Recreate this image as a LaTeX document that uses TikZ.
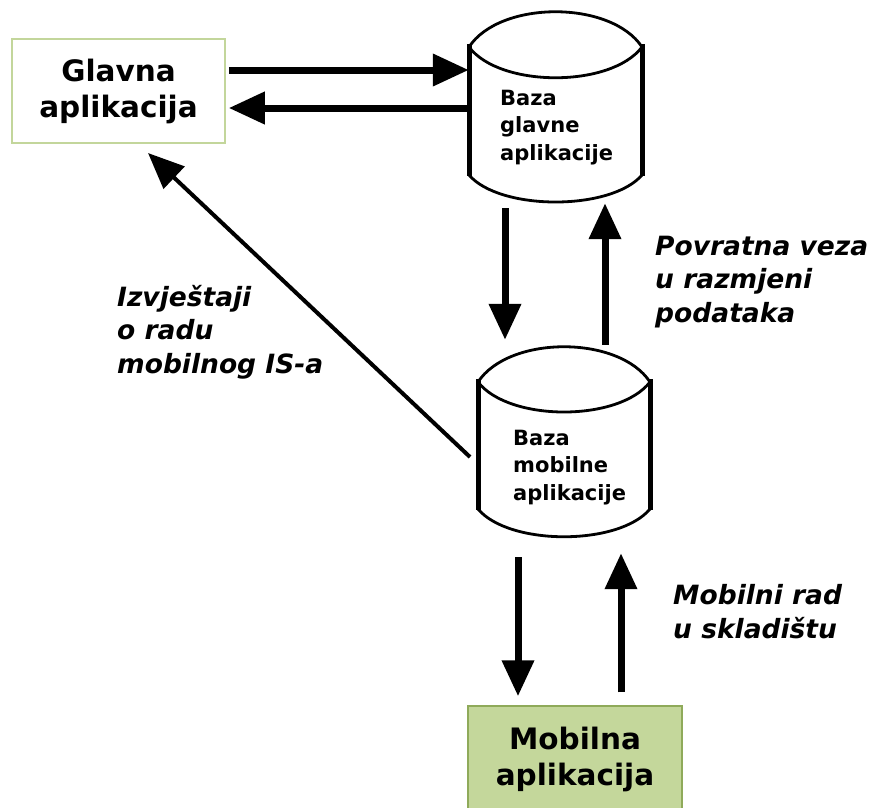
\documentclass[tikz,border=0pt]{standalone}
\usepackage{fontspec}
\setmainfont{DejaVu Sans}
\usetikzlibrary{arrows.meta}
\definecolor{glavline}{HTML}{C3D69B}
\definecolor{mobfill}{HTML}{C4D79B}
\definecolor{mobline}{HTML}{8FAA5A}
\tikzset{
  appbox/.style={draw, line width=1.5pt, inner sep=0pt, align=center,
    font=\bfseries\fontsize{29.5pt}{36pt}\selectfont},
  dbanchor/.style={inner sep=0pt, draw=none},
  dbtext/.style={inner sep=0pt, align=left, anchor=base west,
    font=\bfseries\fontsize{21pt}{27.5pt}\selectfont},
  lbl/.style={inner sep=0pt, align=left, anchor=base west,
    font=\bfseries\itshape\fontsize{26.5pt}{33.5pt}\selectfont},
  dbside/.style={line width=5pt},
  dbarc/.style={line width=2.8pt},
  bigarrow/.style={line width=7pt, -{Triangle[length=36pt,width=31pt]}},
  thinarrow/.style={line width=4pt, -{Triangle[length=36pt,width=30pt]}}
}
\begin{document}
\begin{tikzpicture}[x=1pt,y=-1pt]
\useasboundingbox (0,0) rectangle (872,807);
\clip (0,0) rectangle (872,807);

% Glavna aplikacija
\node[appbox, draw=glavline, fill=white, minimum width=213pt, minimum height=104pt] (glavna) at (118.5,91) {Glavna\\aplikacija};

% Mobilna aplikacija
\node[appbox, draw=mobline, fill=mobfill, minimum width=214pt, minimum height=106pt] (mobilna) at (575,759) {Mobilna\\aplikacija};

% Cylinder 1
\node[dbanchor, minimum width=173pt, minimum height=192pt] (db1) at (555.5,106) {};
\draw[dbarc] (469,47) .. controls (500,0) and (611,0) .. (642,47);
\draw[dbarc] (469,47) .. controls (500,88) and (611,88) .. (642,47);
\draw[dbarc] (469,175) .. controls (500,211) and (611,211) .. (642,175);
\draw[dbside] (469,44) -- (469,176);
\draw[dbside] (642,44) -- (642,176);
\node[dbtext] (db1t) at (500,160) {Baza\\glavne\\aplikacije};

% Cylinder 2
\node[dbanchor, minimum width=172pt, minimum height=193pt] (db2) at (564,443.5) {};
\draw[dbarc] (478,382) .. controls (509,335) and (619,335) .. (650,382);
\draw[dbarc] (478,382) .. controls (509,422) and (619,422) .. (650,382);
\draw[dbarc] (478,509) .. controls (509,546) and (619,546) .. (650,509);
\draw[dbside] (478,379) -- (478,510);
\draw[dbside] (650,379) -- (650,510);
\node[dbtext] (db2t) at (513,500) {Baza\\mobilne\\aplikacije};

% Arrows between Glavna and db1
\draw[bigarrow, shorten <=3pt] (glavna.east |- 0,70) -- (db1.west |- 0,70);
\draw[bigarrow, shorten >=3pt] (db1.west |- 0,108) -- (glavna.east |- 0,108);

% Arrows between db1 and db2
\draw[bigarrow, shorten <=6pt, shorten >=7pt] (db1.south -| 505,0) -- (db2.north -| 505,0);
\draw[bigarrow, shorten <=2pt, shorten >=1pt] (db2.north -| 605,0) -- (db1.south -| 605,0);

% Report arrow
\coordinate (rtail) at (470,457);
\coordinate (rtip) at (148,153);
\draw[thinarrow] (rtail) -- (rtip);

% Arrows between db2 and Mobilna
\draw[bigarrow, shorten <=17pt, shorten >=9pt] (db2.south -| 518,0) -- (mobilna.north -| 518,0);
\draw[bigarrow, shorten <=13pt, shorten >=13pt] (mobilna.north -| 621,0) -- (db2.south -| 621,0);

% Labels
\node[lbl] (lrep) at (117,373) {Izvještaji\\o radu\\mobilnog IS-a};
\node[lbl] (lpov) at (655,322) {Povratna veza\\u razmjeni\\podataka};
\node[lbl] (lmob) at (673,638) {Mobilni rad\\u skladištu};
\end{tikzpicture}
\end{document}
